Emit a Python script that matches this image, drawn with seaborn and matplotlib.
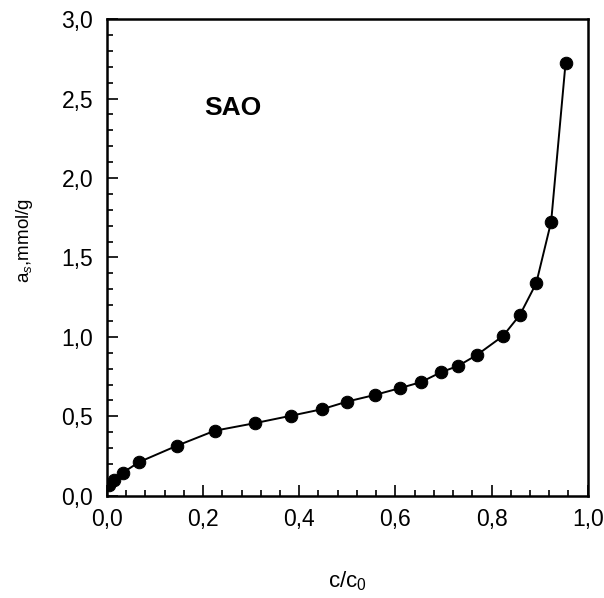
import numpy as np
import pandas as pd
import seaborn as sns
from matplotlib import pyplot as plt
from matplotlib.ticker import MultipleLocator, FuncFormatter

# isotherm points
c_rel = [0.005, 0.015, 0.033, 0.067, 0.145, 0.224, 0.308, 0.382, 0.448, 0.500,
         0.558, 0.609, 0.653, 0.694, 0.731, 0.770, 0.824, 0.859, 0.893, 0.924, 0.954]
a_s = [0.07, 0.10, 0.145, 0.212, 0.314, 0.409, 0.457, 0.503, 0.545, 0.593,
       0.635, 0.677, 0.715, 0.776, 0.818, 0.887, 1.006, 1.138, 1.338, 1.725, 2.725]
sample_name = "SAO"

df = pd.DataFrame({"c/c0": c_rel, "a_s": a_s})

sns.set_style("ticks")
plt.rcParams['font.family'] = ['Liberation Sans', 'DejaVu Sans']
plt.rcParams['mathtext.fontset'] = 'custom'
plt.rcParams['mathtext.rm'] = 'Liberation Sans'
plt.rcParams['mathtext.it'] = 'Liberation Sans:italic'
plt.rcParams['text.color'] = 'black'
plt.rcParams['axes.labelcolor'] = 'black'
plt.rcParams['xtick.color'] = 'black'
plt.rcParams['ytick.color'] = 'black'

fig = plt.figure(figsize=(6.04, 5.98), dpi=100)
ax = fig.add_axes([0.177, 0.171, 0.796, 0.797])

sns.lineplot(data=df, x="c/c0", y="a_s", ax=ax, color="black", linewidth=1.4,
             marker="o", markersize=9, markeredgecolor="black", sort=False,
             estimator=None)

ax.set_xlim(0, 1.0)
ax.set_ylim(0, 3.0)
ax.xaxis.set_major_locator(MultipleLocator(0.2))
ax.xaxis.set_minor_locator(MultipleLocator(0.04))
ax.yaxis.set_major_locator(MultipleLocator(0.5))
ax.yaxis.set_minor_locator(MultipleLocator(0.1))
comma = FuncFormatter(lambda v, p: f"{v:.1f}".replace(".", ","))
ax.xaxis.set_major_formatter(comma)
ax.yaxis.set_major_formatter(comma)

ax.tick_params(which="both", direction="in", top=False, right=False,
               labelsize=16.5, width=1.2, color="black", labelcolor="black")
ax.tick_params(axis="x", which="major", length=8, pad=9)
ax.tick_params(axis="y", which="major", length=8, pad=10)
ax.tick_params(which="minor", length=4.5)

for s in ax.spines.values():
    s.set_visible(True)
    s.set_linewidth(1.8)
    s.set_color("black")

ax.set_xlabel("c/c$_0$", fontsize=16)
ax.set_ylabel("a$_s$,mmol/g", fontsize=13.5)
ax.yaxis.set_label_coords(-0.15, 0.535)
ax.xaxis.set_label_coords(0.5, -0.155)

ax.text(0.262, 2.44, sample_name, fontsize=19, fontweight="bold",
        ha="center", va="center")

plt.savefig("out.png", dpi=100)
